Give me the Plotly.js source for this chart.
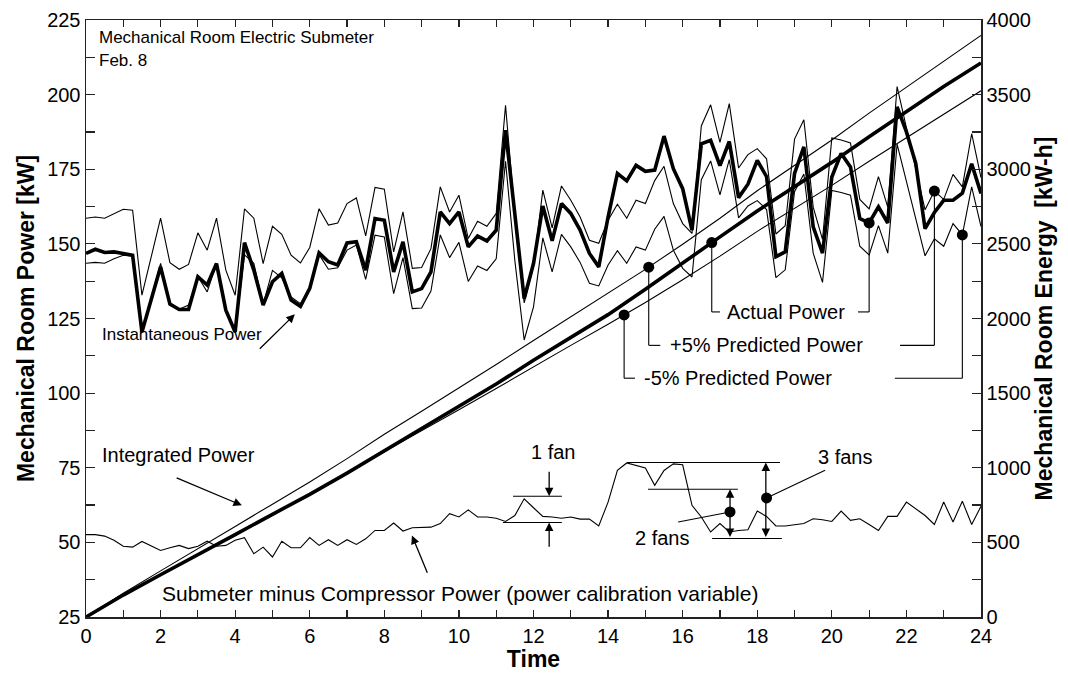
<!DOCTYPE html>
<html><head><meta charset="utf-8">
<script src="https://cdn.plot.ly/plotly-3.0.1.min.js"></script>
<style>html,body{margin:0;padding:0;background:#fff}</style>
</head><body><div id="chart" style="width:1068px;height:686px"></div>
<script>
// ---- data ----
const timeHours = [0,0.25,0.5,0.75,1,1.25,1.5,1.75,2,2.25,2.5,2.75,3,3.25,3.5,3.75,4,4.25,4.5,4.75,5,5.25,5.5,5.75,6,6.25,6.5,6.75,7,7.25,7.5,7.75,8,8.25,8.5,8.75,9,9.25,9.5,9.75,10,10.25,10.5,10.75,11,11.25,11.5,11.75,12,12.25,12.5,12.75,13,13.25,13.5,13.75,14,14.25,14.5,14.75,15,15.25,15.5,15.75,16,16.25,16.5,16.75,17,17.25,17.5,17.75,18,18.25,18.5,18.75,19,19.25,19.5,19.75,20,20.25,20.5,20.75,21,21.25,21.5,21.75,22,22.25,22.5,22.75,23,23.25,23.5,23.75,24];

const actualPower = [146.8,148.2,147.1,147.3,146.8,146.2,120.5,131.1,142.3,129.8,128.0,128.0,139.0,136.2,143.4,127.8,120.5,150.4,141.2,129.5,137.3,140.1,131.2,129.1,135.1,147.0,144.0,142.9,150.3,150.7,141.2,158.5,157.9,140.6,150.7,133.9,135.0,140.6,160.7,156.8,160.7,149.0,152.6,151.0,154.6,188.1,159.0,131.7,143.4,162.7,151.0,163.5,160.2,154.6,146.8,142.3,159.0,173.6,171.1,176.3,174.3,174.7,186.1,175.2,168.5,154.6,183.5,184.7,176.2,184.3,165.5,170.0,178.0,172.5,145.7,147.3,173.6,182.5,155.7,146.9,172.4,180.3,175.8,158.5,157.0,162.4,157.0,195.9,187.5,177.0,155.1,160.5,164.6,164.6,167.0,176.8,166.9];

const plus5PredictedPower = [158.6,159.0,158.6,160.2,161.6,161.3,132.8,145.7,158.6,143.7,141.5,143.1,153.7,147.9,158.6,141.2,132.8,161.7,158.6,143.4,155.9,153.2,146.2,143.6,148.8,161.8,156.3,157.0,163.5,165.4,152.7,168.9,168.3,147.3,160.7,141.8,142.1,148.4,169.1,160.7,166.3,151.8,157.6,155.9,160.2,196.4,159.6,130.2,142.5,168.0,155.4,169.4,164.6,159.0,151.2,150.2,157.9,163.3,158.6,164.6,163.5,171.2,176.0,163.5,156.8,153.5,189.5,196.6,184.0,197.0,175.4,179.9,181.9,178.5,153.3,156.1,185.1,191.6,162.3,151.5,185.5,184.8,183.8,164.9,161.7,172.5,162.3,202.7,189.0,174.3,161.4,167.7,164.9,173.3,169.1,186.9,172.2];

const minus5PredictedPower = [143.5,143.8,143.5,145.0,146.2,145.9,120.2,131.9,143.5,130.1,128.1,129.5,139.1,133.9,143.5,127.8,120.2,146.3,143.5,129.8,141.1,138.6,132.2,130.0,134.6,146.4,141.5,142.0,147.9,149.6,138.1,152.9,152.3,133.3,145.4,128.3,128.5,134.2,153.0,145.4,150.5,137.4,142.6,141.1,145.0,177.7,144.4,117.8,128.9,152.0,140.6,153.2,149.0,143.8,136.8,135.9,142.9,147.7,143.5,149.0,147.9,154.9,159.2,147.9,141.8,138.9,171.5,177.8,166.4,178.2,158.7,162.7,164.5,161.5,138.7,141.3,167.5,173.4,146.9,137.1,167.9,167.2,166.3,149.2,146.3,156.1,146.9,183.4,171.0,157.7,146.0,151.7,149.2,156.8,153.0,169.1,155.8];

const submeterMinusCompressor = [52.6,52.6,52.1,50.7,48.7,48.4,50.3,48.7,47.3,48.2,49.0,47.9,48.7,50.4,48.7,49.0,50.7,51.6,46.2,48.4,45.1,50.4,48.2,48.2,51.6,49.0,50.9,49.0,50.9,49.3,51.2,54.0,54.0,56.5,53.8,54.9,55.1,55.1,56.3,59.6,58.5,60.9,58.5,58.5,58.1,57.0,59.0,64.6,61.6,58.7,58.5,58.1,58.5,57.8,57.8,55.5,63.5,74.1,76.6,75.8,74.9,69.1,74.1,76.3,76.0,62.4,58.5,53.5,56.3,53.5,54.0,54.2,60.5,58.7,55.5,55.5,56.0,56.3,57.9,57.6,57.0,60.5,57.4,57.9,56.0,54.0,58.7,58.7,63.5,61.3,59.0,56.0,63.5,56.8,63.8,56.0,62.1];

const energyHours = [0,1,2,3,4,5,6,7,8,9,10,11,12,13,14,15,16,17,18,19,20,21,22,23,24];
const integratedActual = [0,147,283,415,552,688,822,964,1114,1260,1408,1561,1720,1875,2026,2196,2374,2547,2720,2881,3046,3218,3385,3555,3712];
const integratedPlus5 = [0,159,309,456,607,756,905,1061,1224,1379,1534,1692,1853,2012,2168,2329,2498,2672,2856,3023,3196,3376,3551,3724,3897];
const integratedMinus5 = [0,144,280,413,549,684,819,960,1108,1247,1388,1531,1677,1820,1962,2107,2260,2418,2584,2736,2892,3054,3213,3369,3526];

// callout dots
const powerDotTime = [21.0, 22.75, 23.5];
const powerDotValue = [157.0, 167.7, 153.0];
const energyDotTime = [16.78, 15.09, 14.43];
const energyDotValue = [2509, 2344, 2024];
const fanDotTime = [17.27, 18.25];
const fanDotValue = [60.2, 64.9];

// ---- drawing ----
const FONT = 'Liberation Sans, Arial, Helvetica, sans-serif';
const thin = {color:'#000', width:1.1};
const thick = {color:'#000', width:3.6};

const traces = [
  {x:timeHours, y:plus5PredictedPower, mode:'lines', line:thin, xaxis:'x', yaxis:'y'},
  {x:timeHours, y:minus5PredictedPower, mode:'lines', line:thin, xaxis:'x', yaxis:'y'},
  {x:timeHours, y:actualPower, mode:'lines', line:thick, xaxis:'x', yaxis:'y'},
  {x:timeHours, y:submeterMinusCompressor, mode:'lines', line:thin, xaxis:'x', yaxis:'y'},
  {x:energyHours, y:integratedPlus5, mode:'lines', line:thin, xaxis:'x', yaxis:'y2'},
  {x:energyHours, y:integratedMinus5, mode:'lines', line:thin, xaxis:'x', yaxis:'y2'},
  {x:energyHours, y:integratedActual, mode:'lines', line:thick, xaxis:'x', yaxis:'y2'},
  {x:powerDotTime, y:powerDotValue, mode:'markers', marker:{color:'#000', size:11}, xaxis:'x', yaxis:'y'},
  {x:energyDotTime, y:energyDotValue, mode:'markers', marker:{color:'#000', size:11}, xaxis:'x', yaxis:'y2'},
  {x:fanDotTime, y:fanDotValue, mode:'markers', marker:{color:'#000', size:11}, xaxis:'x', yaxis:'y'}
];

// energy (kW-h) -> left-axis (kW) coordinate, both axes share the frame
const e2p = e => 25 + e / 20;

function seg(x0, y0, x1, y1) {
  return {type:'line', xref:'x', yref:'y', x0, y0, x1, y1, line:{color:'#000', width:1.1}};
}
const shapes = [
  // Actual Power leaders
  seg(energyDotTime[0], e2p(energyDotValue[0]), energyDotTime[0], 127.2),
  seg(energyDotTime[0], 127.2, 17.0, 127.2),
  seg(20.7, 127.2, powerDotTime[0], 127.2),
  seg(powerDotTime[0], 127.2, powerDotTime[0], powerDotValue[0]),
  // +5% leaders
  seg(energyDotTime[1], e2p(energyDotValue[1]), energyDotTime[1], 116.0),
  seg(energyDotTime[1], 116.0, 15.4, 116.0),
  seg(21.83, 116.0, powerDotTime[1], 116.0),
  seg(powerDotTime[1], 116.0, powerDotTime[1], powerDotValue[1]),
  // -5% leaders
  seg(energyDotTime[2], e2p(energyDotValue[2]), energyDotTime[2], 105.0),
  seg(energyDotTime[2], 105.0, 14.72, 105.0),
  seg(21.69, 105.0, powerDotTime[2], 105.0),
  seg(powerDotTime[2], 105.0, powerDotTime[2], powerDotValue[2]),
  // 1 fan bars
  seg(11.45, 65.45, 12.76, 65.45),
  seg(11.18, 56.65, 12.76, 56.65),
  // 2 / 3 fans bars
  seg(14.51, 76.75, 18.61, 76.75),
  seg(15.07, 67.8, 17.48, 67.8),
  seg(16.79, 51.3, 18.66, 51.3),
  // leaders to fan dots
  seg(fanDotTime[0], fanDotValue[0], 15.88, 56.85),
  seg(fanDotTime[1], fanDotValue[1], 19.82, 74.2)
];

function txt(text, x, y, xanchor, size) {
  return {text, x, y, xref:'x', yref:'y', xanchor:xanchor||'left', yanchor:'middle', showarrow:false,
          font:{family:FONT, size:size||20, color:'#000'}};
}
function arrow(x, y, ax, ay, side) {
  return {x, y, ax, ay, xref:'x', yref:'y', axref:'x', ayref:'y', text:'', showarrow:true,
          arrowhead:2, arrowsize:1.3, arrowwidth:1.3, arrowcolor:'#000', arrowside:side||'end', standoff:0, startstandoff:0};
}
const annotations = [
  txt('Mechanical Room Electric Submeter', 0.3, 219.2, 'left', 17),
  txt('Feb. 8', 0.3, 211.5, 'left', 17),
  txt('Instantaneous Power', 0.38, 119.7, 'left', 17),
  txt('Integrated Power', 0.38, 79.2),
  txt('Submeter minus Compressor Power (power calibration variable)', 1.98, 33.0, 'left', 21),
  txt('1 fan', 12.52, 80.2, 'center'),
  txt('2 fans', 15.45, 51.3, 'center'),
  txt('3 fans', 20.35, 78.6, 'center'),
  txt('Actual Power', 17.14, 127.2),
  txt('+5% Predicted Power', 15.61, 116.0),
  txt('-5% Predicted Power', 14.91, 105.0),
  arrow(5.6, 126.4, 4.62, 114.4),
  arrow(4.18, 62.4, 2.39, 71.8),
  arrow(8.74, 52.3, 9.17, 39.3),
  arrow(12.42, 65.45, 12.42, 74.2),
  arrow(12.42, 56.65, 12.42, 48.05),
  arrow(17.27, 67.8, 17.27, 51.3, 'end+start'),
  arrow(18.23, 76.75, 18.23, 51.3, 'end+start')
];

const axisCommon = {showline:true, linecolor:'#222', linewidth:1.5, ticks:'inside', tickcolor:'#222',
  showgrid:false, zeroline:false, tickfont:{family:FONT, size:20, color:'#000'}};

const layout = {
  width:1068, height:686, margin:{l:86, r:87, t:20, b:69},
  paper_bgcolor:'#fff', plot_bgcolor:'#fff', showlegend:false,
  xaxis: Object.assign({}, axisCommon, {range:[0,24], tick0:0, dtick:2, ticklen:7, tickwidth:1.2, mirror:'ticks',
    minor:{dtick:1, ticks:'inside', ticklen:7, tickcolor:'#222', tickwidth:1.2},
    title:{text:'<b>Time</b>', font:{family:FONT, size:23, color:'#000'}, standoff:2}}),
  yaxis: Object.assign({}, axisCommon, {range:[25,225], tick0:25, dtick:25, ticklen:9, tickwidth:1.2, mirror:false,
    minor:{dtick:12.5, ticks:'inside', ticklen:9, tickcolor:'#222', tickwidth:1.2},
    title:{text:'<b>Mechanical Room Power [kW]</b>', font:{family:FONT, size:23, color:'#000'}, standoff:6}}),
  yaxis2: Object.assign({}, axisCommon, {range:[0,4000], tick0:0, dtick:500, ticklen:9, tickwidth:1.2, overlaying:'y', side:'right',
    minor:{dtick:250, ticks:'inside', ticklen:9, tickcolor:'#222', tickwidth:1.2},
    title:{text:'<b>Mechanical Room Energy  [kW-h]</b>', font:{family:FONT, size:23, color:'#000'}, standoff:4}}),
  shapes, annotations
};

Plotly.newPlot('chart', traces, layout, {staticPlot:true, displayModeBar:false});
</script></body></html>
